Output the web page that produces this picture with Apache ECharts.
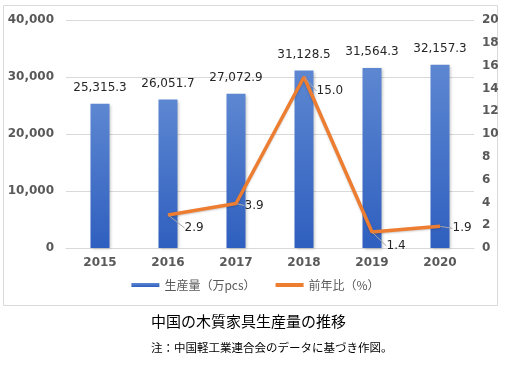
<!DOCTYPE html>
<html><head><meta charset="utf-8">
<script src="https://cdn.jsdelivr.net/npm/echarts@6/dist/echarts.min.js"></script>
<style>html,body{margin:0;padding:0;background:#fff}#c{width:511px;height:368px}</style>
</head><body><div id="c"></div>
<script>
const categories = ['2015','2016','2017','2018','2019','2020'];
const production = [25315.3, 26051.7, 27072.9, 31128.5, 31564.3, 32157.3];
const yoy = [null, 2.9, 3.9, 15.0, 1.4, 1.9];
const leftTicks = [0, 10000, 20000, 30000, 40000];
const rightTicks = [0, 2, 4, 6, 8, 10, 12, 14, 16, 18, 20];
const seriesNames = ['生産量（万pcs）', '前年比（%）'];
const titleText = '中国の木質家具生産量の推移';
const noteText = '注：中国軽工業連合会のデータに基づき作図。';

const chart = echarts.init(document.getElementById('c'));
const axisFont = {color:'#595959', fontSize:12, fontFamily:'DejaVu Sans'};
// label offsets per point (dx, dy)
const lblOffsets = [null, [10, 13], [2, 2], [6, 14], [8, 14], [6, 2]];
chart.setOption({
  animation:false,
  graphic:[
    {type:'rect', shape:{x:3.5,y:5.5,width:494,height:300}, style:{fill:'none', stroke:'#d9d9d9', lineWidth:1}, z:-1},
    {type:'text', left:151, top:314, style:{text:titleText, fontSize:15, fill:'#000', fontFamily:'Noto Sans CJK JP'}},
    {type:'text', left:151, top:342, style:{text:noteText, fontSize:11.5, fill:'#000', fontFamily:'Noto Sans CJK JP'}}
  ],
  grid:{left:66, right:37, top:20, bottom:120},
  legend:{
    bottom:72, left:'center', itemGap:20, itemWidth:28, itemHeight:4,
    textStyle:{color:'#595959', fontSize:12, fontFamily:'Noto Sans CJK JP'},
    data:[{name:seriesNames[0], icon:'rect'}, {name:seriesNames[1], icon:'rect'}]
  },
  xAxis:{type:'category', data:categories,
    axisLine:{lineStyle:{color:'#d9d9d9'}}, axisTick:{show:false},
    axisLabel:Object.assign({margin:9, fontWeight:'bold'}, axisFont)},
  yAxis:[
    {type:'value', min:leftTicks[0], max:leftTicks[leftTicks.length-1], interval:10000,
     axisLabel:Object.assign({fontWeight:'bold', margin:12, formatter:v=>v.toLocaleString('en-US')}, axisFont),
     splitLine:{lineStyle:{color:'#d9d9d9'}}, axisLine:{show:false}, axisTick:{show:false}},
    {type:'value', min:rightTicks[0], max:rightTicks[rightTicks.length-1], interval:2,
     axisLabel:Object.assign({fontWeight:'bold', margin:8}, axisFont),
     splitLine:{show:false}, axisLine:{show:false}, axisTick:{show:false}}
  ],
  series:[
    {name:seriesNames[0], type:'bar', data:production, barWidth:19, yAxisIndex:0,
     itemStyle:{color:new echarts.graphic.LinearGradient(0,0,0,1,[{offset:0,color:'#5d87d1'},{offset:1,color:'#2f5fbf'}]),
       shadowColor:'rgba(0,0,0,0.25)', shadowBlur:3, shadowOffsetX:1, shadowOffsetY:1},
     label:{show:true, position:'top', distance:10, color:'#262626', fontSize:12, fontFamily:'DejaVu Sans',
       formatter:p=>p.value.toLocaleString('en-US',{minimumFractionDigits:1, maximumFractionDigits:1})}},
    {name:seriesNames[1], type:'line', data:yoy, yAxisIndex:1, symbol:'circle', symbolSize:1, showSymbol:true, connectNulls:false,
     lineStyle:{color:'#ed7d31', width:3.5, shadowColor:'rgba(0,0,0,0.2)', shadowBlur:2, shadowOffsetY:1},
     itemStyle:{color:'#ed7d31'},
     label:{show:true, position:'right', distance:6, color:'#262626', fontSize:12, fontFamily:'DejaVu Sans',
       formatter:p=>p.value==null?'':p.value.toFixed(1)},
     labelLine:{show:true, lineStyle:{color:'#a6a6a6', width:1}},
     labelLayout:function(params){
       const o = lblOffsets[params.dataIndex];
       if(!o) return {};
       return {dx:o[0], dy:o[1]};
     }}
  ]
});
</script></body></html>
